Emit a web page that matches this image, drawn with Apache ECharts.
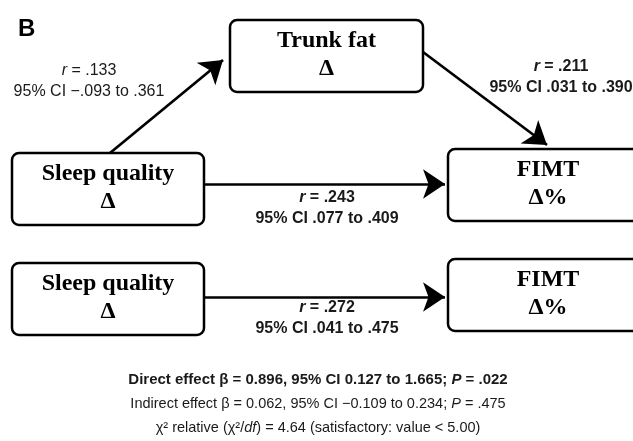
<!DOCTYPE html>
<html lang="en">
<head>
    <meta charset="UTF-8">
    <title>Mediation path B</title>
    <script src="https://cdn.jsdelivr.net/npm/echarts@6/dist/echarts.min.js"></script>
    <style>
        html, body { margin: 0; padding: 0; background: #fff; }
        #chart { width: 633px; height: 441px; }
    </style>
</head>
<body>
<div id="chart"></div>
<script>
// --- data ---
var panelLetter = 'B';
var nodeTitles = ['Trunk fat', 'Sleep quality', 'FIMT', 'Sleep quality', 'FIMT'];
var nodeDeltas = ['\u0394', '\u0394', '\u0394%', '\u0394', '\u0394%'];
var pathR = ['.133', '.211', '.243', '.272'];
var pathCI = ['\u2212.093 to .361', '.031 to .390', '.077 to .409', '.041 to .475'];
var effectNames = ['Direct effect', 'Indirect effect'];
var effectBeta = ['0.896', '0.062'];
var effectCI = ['0.127 to 1.665', '\u22120.109 to 0.234'];
var effectP = ['.022', '.475'];
var chiRelative = '4.64';
var chiCutoff = '5.00';

// --- layout (pixel space of the hidden axes) ---
var boxRects = [[230, 20, 423, 92], [12, 153, 204, 225], [448, 149, 648, 221], [12, 263, 204, 335], [448, 259, 648, 331]];
var arrowPaths = [
    [[110, 153], [223, 60]],
    [[423, 52], [547, 145]],
    [[204, 184], [445, 184]],
    [[204, 297], [445, 297]]
];
var pathLabelPos = [[89, 71], [561, 67], [327, 198], [327, 308]];
var pathLabelBold = [false, true, true, true];
var footerY = [380, 404, 428];

var sans = '"Liberation Sans", Arial, sans-serif';
var serif = '"Liberation Serif", "Times New Roman", serif';

var chart = echarts.init(document.getElementById('chart'), null, { renderer: 'canvas' });

function boxItem(params, api) {
    var p0 = api.coord([api.value(0), api.value(1)]);
    var p1 = api.coord([api.value(2), api.value(3)]);
    var cx = (p0[0] + p1[0]) / 2;
    var i = params.dataIndex;
    return {
        type: 'group',
        children: [{
            type: 'rect',
            shape: { x: p0[0], y: p0[1], width: p1[0] - p0[0], height: p1[1] - p0[1], r: 7 },
            style: { fill: '#fff', stroke: '#000', lineWidth: 2.5 }
        }, {
            type: 'text',
            x: cx, y: p0[1] + 21,
            style: { text: nodeTitles[i], font: 'bold 24px ' + serif, fill: '#000', align: 'center', verticalAlign: 'middle' }
        }, {
            type: 'text',
            x: cx, y: p0[1] + 49,
            style: { text: nodeDeltas[i], font: 'bold 24px ' + serif, fill: '#000', align: 'center', verticalAlign: 'middle' }
        }]
    };
}

// first line of each label is centred on its position
function pathLabel(params, api) {
    var p = api.coord([api.value(0), api.value(1)]);
    var i = params.dataIndex;
    var w = pathLabelBold[i] ? 'bold' : 'normal';
    return {
        type: 'text',
        x: p[0], y: p[1] - 10.5,
        style: {
            text: '{i|r} = ' + pathR[i] + '\n95% CI ' + pathCI[i],
            align: 'center', verticalAlign: 'top',
            fontFamily: sans, fontSize: 16, fontWeight: w, lineHeight: 21, fill: '#1a1a1a',
            rich: { i: { fontStyle: 'italic', fontFamily: sans, fontSize: 16, fontWeight: w, fill: '#1a1a1a', lineHeight: 21 } }
        }
    };
}

var footerText = [
    effectNames[0] + ' \u03b2 = ' + effectBeta[0] + ', 95% CI ' + effectCI[0] + '; {i|P} = ' + effectP[0],
    effectNames[1] + ' \u03b2 = ' + effectBeta[1] + ', 95% CI ' + effectCI[1] + '; {i|P} = ' + effectP[1],
    '\u03c7\u00b2 relative (\u03c7\u00b2/{i|df}) = ' + chiRelative + ' (satisfactory: value < ' + chiCutoff + ')'
];
var footerSize = [15, 14.5, 14.5];

function footerItem(params, api) {
    var p = api.coord([318, api.value(0)]);
    var i = params.dataIndex;
    var w = i === 0 ? 'bold' : 'normal';
    return {
        type: 'text',
        x: p[0], y: p[1],
        style: {
            text: footerText[i],
            align: 'center', verticalAlign: 'middle',
            fontFamily: sans, fontSize: footerSize[i], fontWeight: w, fill: '#1a1a1a',
            rich: { i: { fontStyle: 'italic', fontFamily: sans, fontSize: footerSize[i], fontWeight: w, fill: '#1a1a1a' } }
        }
    };
}

var option = {
    animation: false,
    backgroundColor: '#fff',
    title: {
        text: panelLetter, left: 13, top: 12,
        textStyle: { fontFamily: sans, fontSize: 24, fontWeight: 'bold', color: '#000' }
    },
    grid: { left: 0, right: 0, top: 0, bottom: 0 },
    xAxis: { type: 'value', min: 0, max: 633, show: false },
    yAxis: { type: 'value', min: 0, max: 441, inverse: true, show: false },
    series: [{
        type: 'lines',
        coordinateSystem: 'cartesian2d',
        symbol: ['none', 'arrow'],
        symbolSize: 22,
        lineStyle: { color: '#000', width: 2.7, opacity: 1 },
        data: arrowPaths.map(function (c) { return { coords: c }; }),
        z: 1
    }, {
        type: 'custom',
        clip: false,
        renderItem: boxItem,
        data: boxRects,
        z: 2
    }, {
        type: 'custom',
        clip: false,
        renderItem: pathLabel,
        data: pathLabelPos,
        z: 3
    }, {
        type: 'custom',
        clip: false,
        renderItem: footerItem,
        data: footerY.map(function (y) { return [y]; }),
        encode: { y: 0 },
        z: 3
    }]
};
chart.setOption(option);
</script>
</body>
</html>
